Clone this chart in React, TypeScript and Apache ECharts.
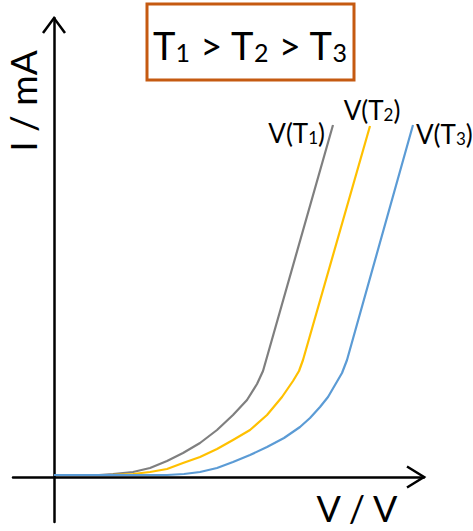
import React, { useEffect, useRef } from "react";
import * as echarts from "echarts";

// Curve V(T1) (gray)
const grayX = [0, 45, 59, 79, 96, 113, 129, 146, 163, 179, 193, 203, 209, 213, 279];
const grayY = [2, 2, 3, 5, 9, 16, 24, 34, 47, 62, 77, 93, 106, 120, 352];
// Curve V(T2) (yellow)
const yellowX = [0, 55, 79, 96, 113, 129, 146, 163, 179, 196, 213, 228, 239, 245, 249, 316];
const yellowY = [2, 2, 3, 5, 8, 14, 20, 28, 37, 47, 62, 80, 96, 106, 117, 351];
// Curve V(T3) (blue)
const blueX = [0, 100, 113, 130, 146, 163, 179, 196, 213, 230, 246, 256, 266, 274, 281, 288, 293, 359];
const blueY = [2, 2, 2, 3, 5, 9, 15, 22, 30, 39, 50, 59, 70, 80, 92, 104, 117, 352];

const seriesSubs = ["1", "2", "3"];
const titleSubs = ["1", "2", "3"];
const xName = "V / V";
const yName = "I / mA";

const FONT = "Lato";
const labelRich = {
  a: { fontSize: 26, fontFamily: FONT, color: "#000", verticalAlign: "bottom" as const },
  s: { fontSize: 17, fontFamily: FONT, color: "#000", verticalAlign: "bottom" as const },
};

function build(xs: number[], ys: number[], sub: string, pos: string, distance: number, offset: number[]) {
  return xs.map((x, i) => {
    if (i < xs.length - 1) return { value: [x, ys[i]] };
    return {
      value: [x, ys[i]],
      label: {
        show: true,
        position: pos,
        distance,
        offset,
        formatter: `{a|V(T}{s|${sub}}{a|)}`,
        rich: labelRich,
      },
    };
  });
}

export default function App() {
  const ref = useRef<HTMLDivElement>(null);
  useEffect(() => {
    if (!ref.current) return;
    const chart = echarts.init(ref.current, undefined, { renderer: "svg" });
    const lineSeries = (name: string, color: string, data: any[]) => ({
      name,
      type: "line",
      data,
      smooth: false,
      symbol: "circle",
      symbolSize: 0,
      showSymbol: true,
      lineStyle: { color, width: 2.2, join: "round" },
      itemStyle: { color },
      z: 3,
    });
    chart.setOption({
      animation: false,
      grid: { left: 13, right: 49, top: 18, bottom: 9, containLabel: false },
      xAxis: {
        type: "value",
        min: -41,
        max: 370,
        axisLine: { onZero: true, lineStyle: { color: "#000", width: 2.5 } },
        axisTick: { show: false },
        axisLabel: { show: false },
        splitLine: { show: false },
      },
      yAxis: {
        type: "value",
        min: -45,
        max: 459,
        axisLine: { onZero: true, lineStyle: { color: "#000", width: 2.5 } },
        axisTick: { show: false },
        axisLabel: { show: false },
        splitLine: { show: false },
      },
      series: [
        lineSeries("V(T1)", "#7f7f7f", build(grayX, grayY, seriesSubs[0], "left", 8, [0, 8])),
        lineSeries("V(T2)", "#ffc000", build(yellowX, yellowY, seriesSubs[1], "top", 3, [2, 0])),
        lineSeries("V(T3)", "#5b9bd5", build(blueX, blueY, seriesSubs[2], "right", 3, [0, 9])),
      ],
    });

    const xTip = chart.convertToPixel({ gridIndex: 0 }, [370, 0]) as number[];
    const yTip = chart.convertToPixel({ gridIndex: 0 }, [0, 459]) as number[];
    const titleRich = {
      m: { fontSize: 38, fontFamily: FONT, fill: "#000", verticalAlign: "bottom" },
      s: { fontSize: 25, fontFamily: FONT, fill: "#000", verticalAlign: "bottom" },
    };
    chart.setOption({
      graphic: [
        {
          type: "polyline",
          shape: { points: [[xTip[0] - 17, xTip[1] - 10.5], [xTip[0], xTip[1]], [xTip[0] - 17, xTip[1] + 10.5]] },
          style: { stroke: "#000", lineWidth: 2.5, fill: "none" },
          z: 10,
        },
        {
          type: "polyline",
          shape: { points: [[yTip[0] - 11, yTip[1] + 15], [yTip[0], yTip[1]], [yTip[0] + 11, yTip[1] + 15]] },
          style: { stroke: "#000", lineWidth: 2.5, fill: "none" },
          z: 10,
        },
        {
          type: "rect",
          shape: { x: 147, y: 4, width: 207, height: 76 },
          style: { stroke: "#c55a11", lineWidth: 3, fill: "#fff" },
          z: 10,
        },
        {
          type: "text",
          x: 250,
          y: 45,
          style: {
            text: `{m|T}{s|${titleSubs[0]}}{m| > T}{s|${titleSubs[1]}}{m| > T}{s|${titleSubs[2]}}`,
            rich: titleRich,
            align: "center",
            verticalAlign: "middle",
          },
          z: 11,
        },
        {
          type: "text",
          x: 22,
          y: 101,
          rotation: Math.PI / 2,
          style: { text: yName, fontSize: 37, fontFamily: FONT, fill: "#000", align: "center", verticalAlign: "middle" },
          z: 11,
        },
        {
          type: "text",
          x: 357,
          y: 508,
          style: { text: xName, fontSize: 36, fontFamily: FONT, fill: "#000", align: "center", verticalAlign: "middle" },
          z: 11,
        },
      ],
    });
    return () => chart.dispose();
  }, []);
  return <div ref={ref} style={{ position: "absolute", left: 0, top: 0, width: 473, height: 531 }} />;
}
